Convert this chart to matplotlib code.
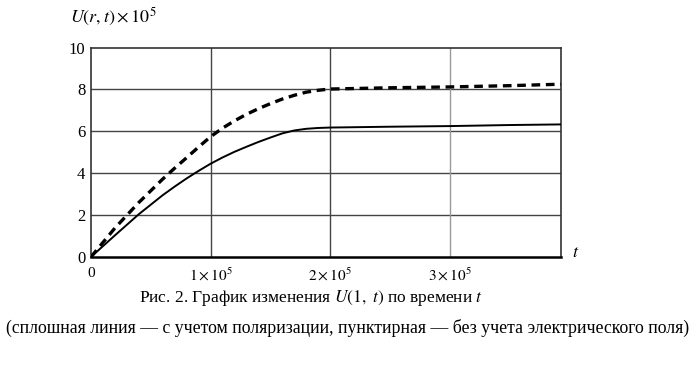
import numpy as np
import matplotlib
matplotlib.use("Agg")
import matplotlib.pyplot as plt

plt.rcParams["font.family"] = ["Liberation Serif", "DejaVu Serif"]
plt.rcParams["mathtext.fontset"] = "stix"

# время в единицах 1e5
t_vals = [0, 0.2, 0.4, 0.6, 0.7, 0.8, 0.9, 1.0, 1.1, 1.2, 1.3, 1.4, 1.5, 1.6, 1.7,
          1.8, 1.9, 2.0, 2.5, 3.0, 3.5, 3.93]
# с учетом поляризации (сплошная)
u_pol = [0, 1.03, 2.04, 2.95, 3.36, 3.75, 4.11, 4.45, 4.75, 5.02, 5.26, 5.49, 5.7, 5.9, 6.04,
         6.12, 6.16, 6.18, 6.22, 6.25, 6.3, 6.33]
# без учета электрического поля (пунктир)
u_nofield = [0, 1.38, 2.6, 3.72, 4.24, 4.74, 5.25, 5.74, 6.15, 6.5, 6.81, 7.08, 7.32, 7.54, 7.72,
             7.87, 7.96, 8.02, 8.08, 8.12, 8.18, 8.25]

x_ticks = [0, 1e5, 2e5, 3e5]
x_ticklabels = ["0", r"$1\times10^5$", r"$2\times10^5$", r"$3\times10^5$"]
y_ticks = [0, 2, 4, 6, 8, 10]

t = np.array(t_vals) * 1e5

fig = plt.figure(figsize=(7, 3.66), dpi=100)
ax = fig.add_axes([0.13, 0.298, 0.671, 0.572])

ax.plot(t, u_pol, color="black", lw=1.4, zorder=3)
ax.plot(t, u_nofield, color="black", lw=2.4, dashes=(2.6, 1.7), zorder=3)

ax.set_xlim(0, 3.93e5)
ax.set_ylim(0, 10)
ax.set_xticks(x_ticks)
ax.set_xticklabels(x_ticklabels, fontsize=11)
ax.set_yticks(y_ticks)
ax.set_yticklabels([str(v) for v in y_ticks], fontsize=12)
ax.tick_params(axis="x", length=0, pad=7)
ax.tick_params(axis="y", length=0, pad=4)

for v in y_ticks[1:-1]:
    ax.axhline(v, color="#444444", lw=1.0, zorder=1)
for v, c in zip(x_ticks[1:], ["#444444", "#444444", "#999999"]):
    ax.axvline(v, color=c, lw=1.0, zorder=1)

for s in ax.spines.values():
    s.set_color("#333333")
    s.set_linewidth(1.2)
ax.spines["bottom"].set_linewidth(1.8)
ax.spines["bottom"].set_color("black")

fig.text(0.10, 0.955, r"$U(r,t)\times10^5$", fontsize=13, va="center", ha="left")
fig.text(0.823, 0.31, r"$t$", fontsize=13, va="center", ha="center")

fig.text(0.445, 0.185, r"Рис. 2. График изменения $U\left(1,\ t\right)$ по времени $t$",
         fontsize=12.5, ha="center", va="center")
fig.text(0.497, 0.105, "(сплошная линия — с учетом поляризации, пунктирная — без учета электрического поля)",
         fontsize=12.8, ha="center", va="center")

fig.savefig("out.png", dpi=100)
